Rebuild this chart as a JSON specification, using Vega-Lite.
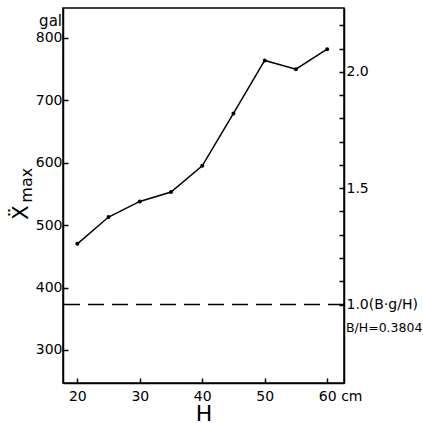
{
  "$schema": "https://vega.github.io/schema/vega-lite/v6.json",
  "width": 281,
  "height": 375,
  "autosize": {"type": "none"},
  "padding": {"left": 63, "top": 8, "right": 79, "bottom": 40},
  "background": "white",
  "config": {
    "font": "DejaVu Sans",
    "view": {"stroke": "black", "strokeWidth": 1.5},
    "axis": {
      "grid": false,
      "domainColor": "black",
      "domainWidth": 1.5,
      "tickColor": "black",
      "tickWidth": 1.5,
      "tickSize": -5,
      "labelColor": "black",
      "labelFont": "DejaVu Sans",
      "labelFontSize": 14,
      "labelFlush": false,
      "labelOverlap": false,
      "titleColor": "black",
      "titleFont": "DejaVu Sans",
      "titleFontWeight": "normal"
    }
  },
  "layer": [
    {
      "layer": [
        {
          "data": {
            "values": [
              {"H": 20, "gal": 470},
              {"H": 25, "gal": 513},
              {"H": 30, "gal": 538},
              {"H": 35, "gal": 553},
              {"H": 40, "gal": 595},
              {"H": 45, "gal": 679},
              {"H": 50, "gal": 764},
              {"H": 55, "gal": 750},
              {"H": 60, "gal": 782}
            ]
          },
          "layer": [
            {
              "mark": {"type": "line", "color": "black", "strokeWidth": 1.5},
              "encoding": {
                "x": {
                  "field": "H",
                  "type": "quantitative",
                  "scale": {"domain": [17.7, 62.7], "nice": false, "zero": false},
                  "axis": {
                    "values": [20, 30, 40, 50, 60],
                    "labelPadding": 11,
                    "title": "H",
                    "titleFontSize": 22,
                    "titleBaseline": "alphabetic",
                    "titleY": 37
                  }
                },
                "y": {
                  "field": "gal",
                  "type": "quantitative",
                  "scale": {"domain": [247, 848], "nice": false, "zero": false},
                  "axis": {
                    "values": [300, 400, 500, 600, 700, 800],
                    "labelPadding": 6,
                    "title": "Ẍ",
                    "titleFontSize": 21,
                    "titleAngle": -90,
                    "titleAlign": "center",
                    "titleBaseline": "alphabetic",
                    "titleX": -36,
                    "titleY": 204
                  }
                }
              }
            },
            {
              "mark": {"type": "point", "filled": true, "color": "black", "size": 16, "opacity": 1},
              "encoding": {
                "x": {"field": "H", "type": "quantitative"},
                "y": {"field": "gal", "type": "quantitative"}
              }
            }
          ]
        },
        {
          "data": {"values": [{}]},
          "mark": {"type": "text", "text": "gal", "fontSize": 15, "align": "right", "baseline": "middle", "dx": -1, "dy": -17, "color": "black"},
          "encoding": {
            "x": {"datum": 17.7},
            "y": {"datum": 800}
          }
        },
        {
          "data": {"values": [{}]},
          "mark": {"type": "text", "text": "cm", "fontSize": 14, "align": "left", "baseline": "middle", "dx": 14, "dy": 14, "color": "black"},
          "encoding": {
            "x": {"datum": 60},
            "y": {"datum": 247}
          }
        },
        {
          "data": {"values": [{}]},
          "mark": {"type": "text", "text": "max", "fontSize": 16, "angle": 270, "align": "center", "baseline": "alphabetic", "dy": -31, "color": "black"},
          "encoding": {
            "x": {"datum": 17.7},
            "y": {"datum": 564}
          }
        },
        {
          "data": {"values": [{}]},
          "mark": {"type": "text", "text": "B/H=0.3804", "fontSize": 12.5, "align": "left", "baseline": "middle", "dx": 2, "dy": 23, "color": "black"},
          "encoding": {
            "x": {"datum": 62.7},
            "y": {"datum": 372.8}
          }
        }
      ]
    },
    {
      "data": {"values": [{}]},
      "mark": {"type": "rule", "color": "black", "strokeWidth": 1.5, "strokeDash": [16, 8]},
      "encoding": {
        "y": {
          "datum": 1,
          "type": "quantitative",
          "scale": {"domain": [0.6626, 2.2747], "nice": false, "zero": false},
          "axis": {
            "orient": "right",
            "values": [1, 1.1, 1.2, 1.3, 1.4, 1.5, 1.6, 1.7, 1.8, 1.9, 2, 2.1, 2.2],
            "format": ".1f",
            "labelExpr": "datum.label == '2.0' || datum.label == '1.5' ? datum.label : (datum.label == '1.0' ? '1.0(B·g/H)' : '')",
            "labelPadding": 7,
            "title": null
          }
        }
      }
    }
  ],
  "resolve": {"scale": {"y": "independent"}}
}
